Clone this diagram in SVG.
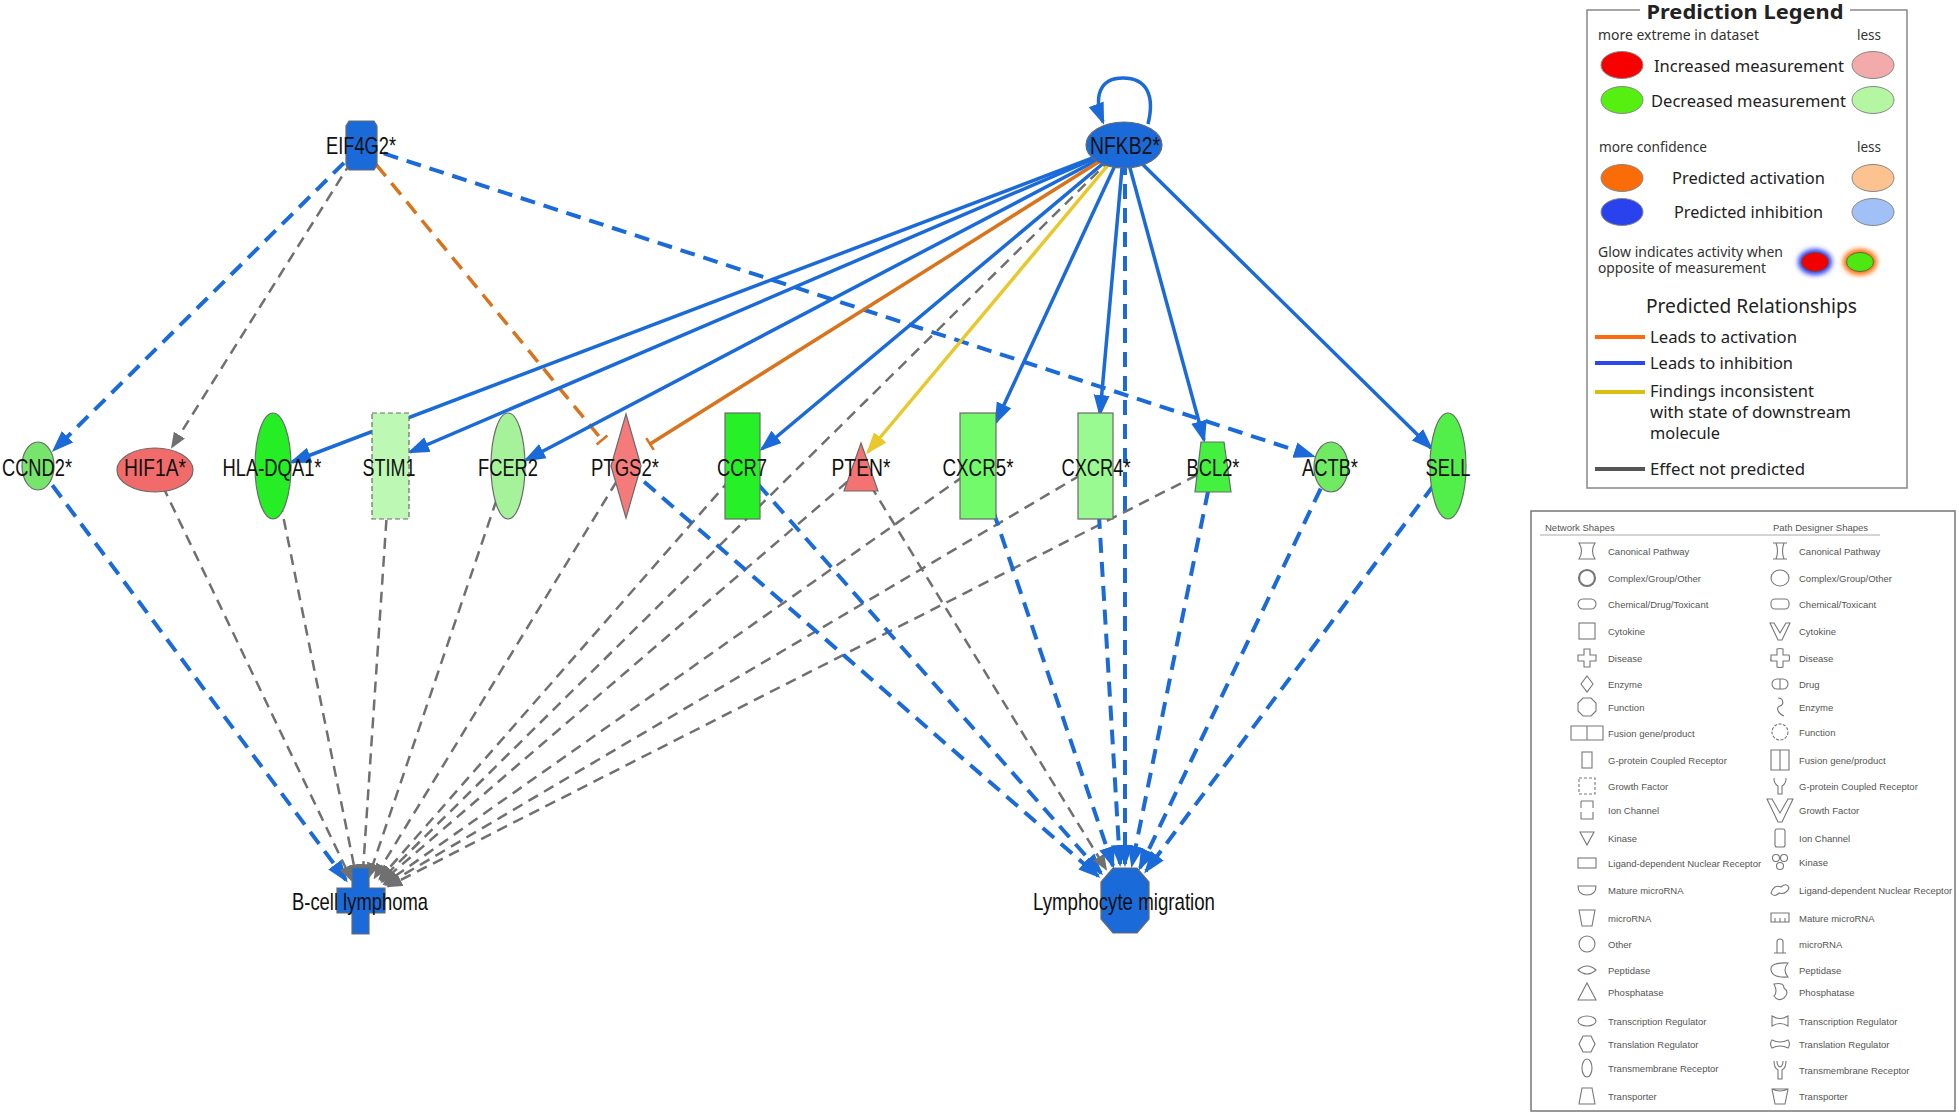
<svg xmlns="http://www.w3.org/2000/svg" width="1959" height="1114" viewBox="0 0 1959 1114">
<defs>
<style>
.lbl{font-family:"Liberation Sans",Arial,sans-serif;font-size:24px;fill:#111;text-anchor:middle}
.node{stroke:#6a6a6a;stroke-width:1.2}
.blue{fill:#1a6bd9}
.eb{stroke:#1a6bd9;stroke-width:3.5;fill:none}
.ebd{stroke:#1a6bd9;stroke-width:4;stroke-dasharray:15 9;fill:none}
.eg{stroke:#707070;stroke-width:2.5;stroke-dasharray:11 7;fill:none}
.eo{stroke:#d9731c;stroke-width:3.5;fill:none}
.eod{stroke:#d9731c;stroke-width:3.5;stroke-dasharray:15 9;fill:none}
.ey{stroke:#e8c82a;stroke-width:3.5;fill:none}
.lg{font-family:"Noto Sans","DejaVu Sans",sans-serif;fill:#222}
.lgs{font-family:"Noto Sans","DejaVu Sans",sans-serif;fill:#333;font-size:13.5px}
.lgm{font-size:16.5px}
.lel{stroke:#888;stroke-width:1}
.ns{font-family:"Liberation Sans",Arial,sans-serif;font-size:9.5px;fill:#555}
.ic{fill:none;stroke:#777;stroke-width:1.1}
</style>
<marker id="ab" markerUnits="userSpaceOnUse" viewBox="0 0 22 17" markerWidth="22" markerHeight="17" refX="19" refY="8.5" orient="auto"><path d="M0,0.5 L22,8.5 L0,16.5 Z" fill="#1a6bd9"/></marker>
<marker id="ag" markerUnits="userSpaceOnUse" viewBox="0 0 16 13" markerWidth="16" markerHeight="13" refX="14" refY="6.5" orient="auto"><path d="M0,0 L16,6.5 L0,13 Z" fill="#707070"/></marker>
<marker id="ay" markerUnits="userSpaceOnUse" viewBox="0 0 22 17" markerWidth="22" markerHeight="17" refX="19" refY="8.5" orient="auto"><path d="M0,0.5 L22,8.5 L0,16.5 Z" fill="#e8c82a"/></marker>
<marker id="tb" markerUnits="userSpaceOnUse" viewBox="-2 -8 4 16" markerWidth="4" markerHeight="16" refX="0" refY="0" orient="auto"><path d="M0,-7 L0,7" stroke="#d9731c" stroke-width="2.5"/></marker>
<filter id="glow" x="-50%" y="-50%" width="200%" height="200%"><feGaussianBlur stdDeviation="2.5"/></filter>
</defs>
<rect width="1959" height="1114" fill="#fff"/>

<g id="connectors">
<!-- EIF4G2 -->
<line class="ebd" x1="361" y1="146" x2="54" y2="450" marker-end="url(#ab)"/>
<line class="eg" x1="361" y1="146" x2="172" y2="447" marker-end="url(#ag)"/>
<line class="eod" x1="361" y1="146" x2="602" y2="440" marker-end="url(#tb)"/>
<line class="ebd" x1="361" y1="146" x2="1313" y2="456" marker-end="url(#ab)"/>
<!-- NFKB2 -->
<line class="eb" x1="1124" y1="146" x2="292" y2="462" marker-end="url(#ab)"/>
<line class="eb" x1="1124" y1="146" x2="410" y2="452" marker-end="url(#ab)"/>
<line class="eb" x1="1124" y1="146" x2="526" y2="460" marker-end="url(#ab)"/>
<line class="eo" x1="1124" y1="146" x2="650" y2="444" marker-end="url(#tb)"/>
<line class="eb" x1="1124" y1="146" x2="762" y2="449" marker-end="url(#ab)"/>
<line class="eg" x1="1124" y1="146" x2="381" y2="880" marker-end="url(#ag)"/>
<line class="ey" x1="1124" y1="146" x2="868" y2="452" marker-end="url(#ay)"/>
<line class="eb" x1="1124" y1="146" x2="996" y2="422" marker-end="url(#ab)"/>
<line class="eb" x1="1124" y1="146" x2="1100" y2="414" marker-end="url(#ab)"/>
<line class="ebd" x1="1125" y1="160" x2="1125" y2="864" marker-end="url(#ab)"/>
<line class="eb" x1="1124" y1="146" x2="1204" y2="440" marker-end="url(#ab)"/>
<line class="eb" x1="1124" y1="146" x2="1431" y2="448" marker-end="url(#ab)"/>
<path class="eb" d="M1148,124 C1155,96 1147,78 1123,78 C1100,78 1093,96 1103,122" marker-end="url(#ab)"/>
<!-- to B-cell lymphoma -->
<line class="ebd" x1="38" y1="466" x2="346" y2="880" marker-end="url(#ab)"/>
<line class="eg" x1="155" y1="470" x2="351.5" y2="880" marker-end="url(#ag)"/>
<line class="eg" x1="273" y1="466" x2="356.6" y2="878.4" marker-end="url(#ag)"/>
<line class="eg" x1="390" y1="466" x2="362.5" y2="878" marker-end="url(#ag)"/>
<line class="eg" x1="508" y1="466" x2="368.7" y2="877" marker-end="url(#ag)"/>
<line class="eg" x1="626" y1="466" x2="374.6" y2="877.8" marker-end="url(#ag)"/>
<line class="eg" x1="742" y1="466" x2="379.5" y2="879" marker-end="url(#ag)"/>
<line class="eg" x1="861" y1="470" x2="382" y2="881.7" marker-end="url(#ag)"/>
<line class="eg" x1="978" y1="466" x2="384" y2="884" marker-end="url(#ag)"/>
<line class="eg" x1="1096" y1="466" x2="386" y2="885" marker-end="url(#ag)"/>
<line class="eg" x1="1213" y1="467" x2="388" y2="886.4" marker-end="url(#ag)"/>
<!-- to Lymphocyte migration -->
<line class="ebd" x1="626" y1="466" x2="1098" y2="876" marker-end="url(#ab)"/>
<line class="ebd" x1="742" y1="466" x2="1101" y2="873" marker-end="url(#ab)"/>
<line class="eg" x1="861" y1="470" x2="1106" y2="869" marker-end="url(#ag)"/>
<line class="ebd" x1="978" y1="466" x2="1113" y2="866" marker-end="url(#ab)"/>
<line class="ebd" x1="1096" y1="466" x2="1120" y2="864" marker-end="url(#ab)"/>
<line class="ebd" x1="1213" y1="467" x2="1132" y2="865" marker-end="url(#ab)"/>
<line class="ebd" x1="1331" y1="467" x2="1140" y2="868" marker-end="url(#ab)"/>
<line class="ebd" x1="1448" y1="466" x2="1146" y2="871" marker-end="url(#ab)"/>
</g>

<g id="EIF4G2"><path class="node blue" d="M349,121 H374 L377,126 V165 L374,170 H349 L346,165 V126 Z"/><text class="lbl" x="361" y="154" textLength="70" lengthAdjust="spacingAndGlyphs">EIF4G2*</text></g>
<g id="NFKB2"><ellipse class="node blue" cx="1124" cy="145" rx="38" ry="23"/><text class="lbl" x="1125" y="154" textLength="70" lengthAdjust="spacingAndGlyphs">NFKB2*</text></g>
<g id="CCND2"><ellipse class="node" cx="38" cy="466" rx="16" ry="24" fill="#77e46b"/><text class="lbl" x="37" y="476" textLength="70" lengthAdjust="spacingAndGlyphs">CCND2*</text></g>
<g id="HIF1A"><ellipse class="node" cx="155" cy="470" rx="38" ry="22" fill="#f26b6b"/><text class="lbl" x="155" y="476" textLength="62" lengthAdjust="spacingAndGlyphs">HIF1A*</text></g>
<g id="HLA-DQA1"><ellipse class="node" cx="273" cy="466" rx="18" ry="53" fill="#25ee25"/><text class="lbl" x="272" y="476" textLength="99" lengthAdjust="spacingAndGlyphs">HLA-DQA1*</text></g>
<g id="STIM1"><rect class="node" x="372" y="413" width="37" height="106" fill="#bdf9b5" stroke-dasharray="5 3"/><text class="lbl" x="389" y="476" textLength="53" lengthAdjust="spacingAndGlyphs">STIM1</text></g>
<g id="FCER2"><ellipse class="node" cx="508" cy="466" rx="17" ry="53" fill="#a5f29b"/><text class="lbl" x="508" y="476" textLength="60" lengthAdjust="spacingAndGlyphs">FCER2</text></g>
<g id="PTGS2"><path class="node" d="M626,414 L641,466 L626,518 L611,466 Z" fill="#f57b7b"/><text class="lbl" x="625" y="476" textLength="68" lengthAdjust="spacingAndGlyphs">PTGS2*</text></g>
<g id="CCR7"><rect class="node" x="725" y="413" width="35" height="106" fill="#26f026"/><text class="lbl" x="742" y="476" textLength="50" lengthAdjust="spacingAndGlyphs">CCR7</text></g>
<g id="PTEN"><path class="node" d="M861,443 L878,491 L844,491 Z" fill="#f47272"/><text class="lbl" x="861" y="476" textLength="59" lengthAdjust="spacingAndGlyphs">PTEN*</text></g>
<g id="CXCR5"><rect class="node" x="960" y="413" width="36" height="106" fill="#72fa6a"/><text class="lbl" x="978" y="476" textLength="71" lengthAdjust="spacingAndGlyphs">CXCR5*</text></g>
<g id="CXCR4"><rect class="node" x="1078" y="413" width="35" height="106" fill="#98fa90"/><text class="lbl" x="1096" y="476" textLength="69" lengthAdjust="spacingAndGlyphs">CXCR4*</text></g>
<g id="BCL2"><path class="node" d="M1201,442 L1224,442 L1231,492 L1195,492 Z" fill="#44f040"/><text class="lbl" x="1213" y="476" textLength="53" lengthAdjust="spacingAndGlyphs">BCL2*</text></g>
<g id="ACTB"><ellipse class="node" cx="1331" cy="467" rx="17" ry="25" fill="#70ea62"/><text class="lbl" x="1330" y="476" textLength="56" lengthAdjust="spacingAndGlyphs">ACTB*</text></g>
<g id="SELL"><ellipse class="node" cx="1448" cy="466" rx="18" ry="53" fill="#52ee4a"/><text class="lbl" x="1448" y="476" textLength="45" lengthAdjust="spacingAndGlyphs">SELL</text></g>
<g id="B-cell-lymphoma"><path class="node blue" d="M352,868 H369 V888 H385 V913 H369 V934 H352 V913 H337 V888 H352 Z"/><text class="lbl" x="360" y="910" textLength="136" lengthAdjust="spacingAndGlyphs">B-cell lymphoma</text></g>
<g id="Lymphocyte-migration"><path class="node blue" d="M1113,868 L1137,868 L1149,882 L1149,919 L1137,933 L1113,933 L1101,919 L1101,882 Z"/><text class="lbl" x="1124" y="910" textLength="182" lengthAdjust="spacingAndGlyphs">Lymphocyte migration</text></g>

<g id="prediction-legend">
<rect x="1587" y="10" width="320" height="478" fill="#fff" stroke="none"/>
<path d="M1640,10 H1587 V488 H1907 V10 H1850" fill="none" stroke="#888" stroke-width="1.5"/>
<text class="lg" x="1745" y="19" font-size="20" font-weight="bold" text-anchor="middle" textLength="197" lengthAdjust="spacingAndGlyphs" fill="#111">Prediction Legend</text>
<text class="lgs" x="1598" y="40" textLength="161" lengthAdjust="spacingAndGlyphs">more extreme in dataset</text>
<text class="lgs" x="1857" y="40">less</text>
<ellipse class="lel" cx="1622" cy="65" rx="21" ry="13.5" fill="#f80000"/>
<ellipse class="lel" cx="1873" cy="65" rx="21" ry="13.5" fill="#f2aaaa"/>
<text class="lg lgm" x="1654" y="72" textLength="190" lengthAdjust="spacingAndGlyphs">Increased measurement</text>
<ellipse class="lel" cx="1622" cy="100" rx="21" ry="13.5" fill="#55ef10"/>
<ellipse class="lel" cx="1873" cy="100" rx="21" ry="13.5" fill="#b5f6a2"/>
<text class="lg lgm" x="1651" y="107" textLength="195" lengthAdjust="spacingAndGlyphs">Decreased measurement</text>
<text class="lgs" x="1599" y="152" textLength="108" lengthAdjust="spacingAndGlyphs">more confidence</text>
<text class="lgs" x="1857" y="152">less</text>
<ellipse class="lel" cx="1622" cy="178" rx="21" ry="13.5" fill="#fa6c08"/>
<ellipse class="lel" cx="1873" cy="178" rx="21" ry="13.5" fill="#fcc290"/>
<text class="lg lgm" x="1672" y="184" textLength="153" lengthAdjust="spacingAndGlyphs">Predicted activation</text>
<ellipse class="lel" cx="1622" cy="212" rx="21" ry="13.5" fill="#2a42ee"/>
<ellipse class="lel" cx="1873" cy="212" rx="21" ry="13.5" fill="#a2c0f8"/>
<text class="lg lgm" x="1674" y="218" textLength="149" lengthAdjust="spacingAndGlyphs">Predicted inhibition</text>
<text class="lgs" x="1598" y="257" textLength="185" lengthAdjust="spacingAndGlyphs">Glow indicates activity when</text>
<text class="lgs" x="1598" y="273" textLength="168" lengthAdjust="spacingAndGlyphs">opposite of measurement</text>
<ellipse cx="1815" cy="262" rx="17" ry="13" fill="#2b3df0" filter="url(#glow)"/>
<ellipse cx="1815" cy="262" rx="13.5" ry="9.5" fill="#f00000" stroke="#555" stroke-width="0.8"/>
<ellipse cx="1860" cy="262" rx="17" ry="13" fill="#ff6a00" filter="url(#glow)"/>
<ellipse cx="1860" cy="262" rx="13.5" ry="9.5" fill="#4de80f" stroke="#555" stroke-width="0.8"/>
<text class="lg" x="1646" y="313" font-size="19" textLength="211" lengthAdjust="spacingAndGlyphs">Predicted Relationships</text>
<line x1="1595" y1="337" x2="1645" y2="337" stroke="#ff6a10" stroke-width="4"/>
<text class="lg" x="1650" y="343" font-size="16" textLength="147" lengthAdjust="spacingAndGlyphs">Leads to activation</text>
<line x1="1595" y1="363" x2="1645" y2="363" stroke="#2b48ee" stroke-width="4"/>
<text class="lg" x="1650" y="369" font-size="16" textLength="143" lengthAdjust="spacingAndGlyphs">Leads to inhibition</text>
<line x1="1595" y1="392" x2="1645" y2="392" stroke="#d8c010" stroke-width="4"/>
<text class="lg" x="1650" y="397" font-size="16" textLength="164" lengthAdjust="spacingAndGlyphs">Findings inconsistent</text>
<text class="lg" x="1650" y="418" font-size="16" textLength="201" lengthAdjust="spacingAndGlyphs">with state of downstream</text>
<text class="lg" x="1650" y="439" font-size="16" textLength="70" lengthAdjust="spacingAndGlyphs">molecule</text>
<line x1="1595" y1="469" x2="1645" y2="469" stroke="#555" stroke-width="4"/>
<text class="lg" x="1650" y="475" font-size="16" textLength="155" lengthAdjust="spacingAndGlyphs">Effect not predicted</text>
</g>

<g id="shapes-legend">
<rect x="1531" y="511" width="424" height="600" fill="#fff" stroke="#777" stroke-width="1.5"/>
<text class="ns" x="1545" y="531">Network Shapes</text>
<text class="ns" x="1773" y="531">Path Designer Shapes</text>
<line x1="1540" y1="535" x2="1880" y2="535" stroke="#aaa" stroke-width="1"/>
<g class="ns">
<text x="1608" y="555">Canonical Pathway</text>
<text x="1608" y="582">Complex/Group/Other</text>
<text x="1608" y="608">Chemical/Drug/Toxicant</text>
<text x="1608" y="635">Cytokine</text>
<text x="1608" y="662">Disease</text>
<text x="1608" y="688">Enzyme</text>
<text x="1608" y="711">Function</text>
<text x="1608" y="737">Fusion gene/product</text>
<text x="1608" y="764">G-protein Coupled Receptor</text>
<text x="1608" y="790">Growth Factor</text>
<text x="1608" y="814">Ion Channel</text>
<text x="1608" y="842">Kinase</text>
<text x="1608" y="867">Ligand-dependent Nuclear Receptor</text>
<text x="1608" y="894">Mature microRNA</text>
<text x="1608" y="922">microRNA</text>
<text x="1608" y="948">Other</text>
<text x="1608" y="974">Peptidase</text>
<text x="1608" y="996">Phosphatase</text>
<text x="1608" y="1025">Transcription Regulator</text>
<text x="1608" y="1048">Translation Regulator</text>
<text x="1608" y="1072">Transmembrane Receptor</text>
<text x="1608" y="1100">Transporter</text>
<text x="1799" y="555">Canonical Pathway</text>
<text x="1799" y="582">Complex/Group/Other</text>
<text x="1799" y="608">Chemical/Toxicant</text>
<text x="1799" y="635">Cytokine</text>
<text x="1799" y="662">Disease</text>
<text x="1799" y="688">Drug</text>
<text x="1799" y="711">Enzyme</text>
<text x="1799" y="736">Function</text>
<text x="1799" y="764">Fusion gene/product</text>
<text x="1799" y="790">G-protein Coupled Receptor</text>
<text x="1799" y="814">Growth Factor</text>
<text x="1799" y="842">Ion Channel</text>
<text x="1799" y="866">Kinase</text>
<text x="1799" y="894">Ligand-dependent Nuclear Receptor</text>
<text x="1799" y="922">Mature microRNA</text>
<text x="1799" y="948">microRNA</text>
<text x="1799" y="974">Peptidase</text>
<text x="1799" y="996">Phosphatase</text>
<text x="1799" y="1025">Transcription Regulator</text>
<text x="1799" y="1048">Translation Regulator</text>
<text x="1799" y="1074">Transmembrane Receptor</text>
<text x="1799" y="1100">Transporter</text>
</g>
<g class="ic">
<path transform="translate(1587,551)" d="M-8,-8 L8,-8 Q3,0 8,8 L-8,8 Q-3,0 -8,-8 Z"/>
<circle cx="1587" cy="578" r="8" stroke-width="2.2"/>
<rect x="1578" y="599" width="18" height="10" rx="5"/>
<rect x="1579" y="623" width="16" height="16"/>
<path transform="translate(1587,658)" d="M-3,-9 H3 V-3 H9 V3 H3 V9 H-3 V3 H-9 V-3 H-3 Z"/>
<path transform="translate(1587,684)" d="M0,-8 L6,0 L0,8 L-6,0 Z"/>
<path transform="translate(1587,707)" d="M-4,-9 L4,-9 L9,-4 L9,4 L4,9 L-4,9 L-9,4 L-9,-4 Z"/>
<path transform="translate(1587,733)" d="M-16,-7 H16 V7 H-16 Z M0,-7 V7"/>
<rect x="1582" y="752" width="10" height="16"/>
<rect x="1579" y="778" width="16" height="16" stroke-dasharray="3 2"/>
<path transform="translate(1587,810)" d="M-6,-9 H6 V-2 M6,2 V9 H-6 V2 M-6,-2 V-9"/>
<path transform="translate(1587,838)" d="M-7,-6 L7,-6 L0,7 Z"/>
<rect x="1578" y="858" width="18" height="10"/>
<path transform="translate(1587,890)" d="M-9,-4 L9,-4 Q9,5 0,5 Q-9,5 -9,-4 Z"/>
<path transform="translate(1587,918)" d="M-8,-8 L8,-8 L5,8 L-5,8 Z"/>
<circle cx="1587" cy="944" r="8"/>
<path transform="translate(1587,970)" d="M-9,0 Q0,-8 9,0 Q0,8 -9,0 Z"/>
<path transform="translate(1587,992)" d="M0,-9 L9,8 L-9,8 Z"/>
<ellipse cx="1587" cy="1021" rx="9" ry="5"/>
<path transform="translate(1587,1044)" d="M-4,-8 L4,-8 L8,0 L4,8 L-4,8 L-8,0 Z"/>
<ellipse cx="1587" cy="1068" rx="5" ry="9"/>
<path transform="translate(1587,1096)" d="M-5,-8 L5,-8 L8,8 L-8,8 Z"/>
<!-- path designer icons -->
<path transform="translate(1780,551)" d="M-7,-8 H7 M-7,8 H7 M-4,-8 Q-1,0 -4,8 M4,-8 Q1,0 4,8"/>
<ellipse cx="1780" cy="578" rx="9" ry="8"/>
<rect x="1771" y="599" width="18" height="10" rx="4"/>
<path transform="translate(1780,631)" d="M-10,-8 L-6,-8 L0,2 L6,-8 L10,-8 L2,9 L-2,9 Z"/>
<path transform="translate(1780,658)" d="M-3,-9 Q0,-10 3,-9 V-3 H9 Q10,0 9,3 H3 V9 Q0,10 -3,9 V3 H-9 Q-10,0 -9,3 V-3 H-3 Z"/>
<path transform="translate(1780,684)" d="M-3,-5 H3 A5,5 0 0 1 3,5 H-3 A5,5 0 0 1 -3,-5 Z M0,-5 V5"/>
<path transform="translate(1780,707)" d="M-2,-9 C4,-9 4,-2 0,-1 C-4,0 -3,6 4,9"/>
<circle cx="1780" cy="732" r="8" stroke-dasharray="3 1.5"/>
<path transform="translate(1780,760)" d="M-9,-10 H9 V10 H-9 Z M0,-10 V10"/>
<path transform="translate(1780,786)" d="M-6,-8 Q-6,-2 -2,0 V8 H2 V0 Q6,-2 6,-8"/>
<path transform="translate(1780,810)" d="M-13,-11 L-8,-11 L0,3 L8,-11 L13,-11 L2,12 L-2,12 Z"/>
<rect x="1775" y="829" width="10" height="18" rx="2"/>
<g transform="translate(1780,862)"><circle cx="-4" cy="-4" r="3.5"/><circle cx="4" cy="-4" r="3.5"/><circle cx="0" cy="4" r="3.5"/></g>
<path transform="translate(1780,890)" d="M-9,3 Q-6,-6 1,-3 Q7,-8 9,-2 Q6,5 -1,3 Q-6,8 -9,3 Z"/>
<path transform="translate(1780,918)" d="M-9,-5 H9 V4 H-9 Z M-5,4 V0 M0,4 V0 M5,4 V0"/>
<path transform="translate(1780,944)" d="M-6,9 H6 M-3,9 V-2 A3,3 0 1 1 3,-2 V9"/>
<path transform="translate(1780,970)" d="M8,-7 Q-10,-8 -9,0 Q-8,8 8,7 Q2,0 8,-7 Z"/>
<path transform="translate(1780,992)" d="M-6,-8 Q4,-10 4,-4 Q10,0 4,6 Q-2,10 -6,4 Q-2,0 -6,-8 Z"/>
<path transform="translate(1780,1021)" d="M-8,-5 Q0,0 8,-5 L8,5 Q0,0 -8,5 Z"/>
<path transform="translate(1780,1044)" d="M-8,-4 Q0,0 8,-4 Q11,0 8,4 Q0,0 -8,4 Q-11,0 -8,-4 Z"/>
<path transform="translate(1780,1070)" d="M-6,-9 Q-6,-2 -2,0 V9 H2 V0 Q6,-2 6,-9 M-3,-9 Q-3,-4 0,-3 Q3,-4 3,-9"/>
<path transform="translate(1780,1096)" d="M-8,-7 H8 L5,8 H-5 Z M-8,-7 Q0,-3 8,-7"/>
</g>
</g>
</svg>
